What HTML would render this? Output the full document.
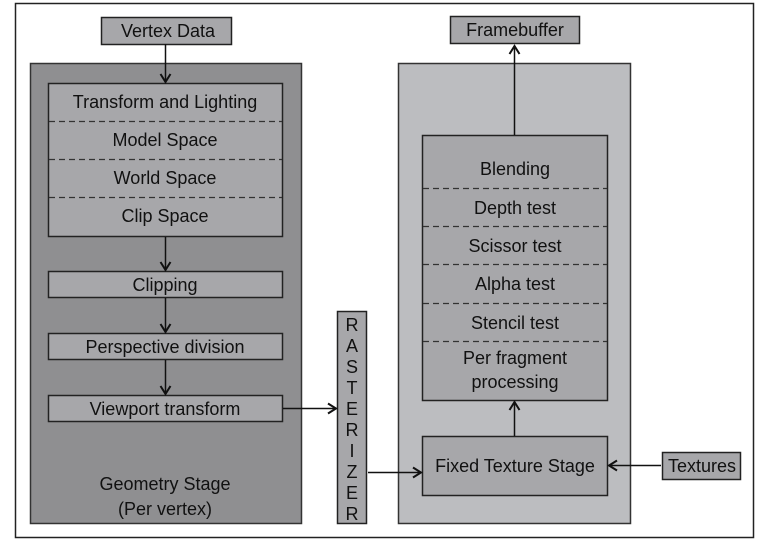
<!DOCTYPE html>
<html><head><meta charset="utf-8"><style>
html,body{margin:0;padding:0;background:#fff;}
svg{display:block;}
text{font-family:"Liberation Sans",sans-serif;font-size:18px;fill:#111;text-anchor:middle;}
</style></head><body>
<svg width="765" height="542" viewBox="0 0 765 542" xmlns="http://www.w3.org/2000/svg">
<defs>
<marker id="a" markerWidth="12" markerHeight="12" refX="10" refY="6" orient="auto" markerUnits="userSpaceOnUse">
<path d="M2,1 L10,6 L2,11" fill="none" stroke="#111" stroke-width="2"/>
</marker>
</defs>
<rect x="15.5" y="3.5" width="738" height="534" fill="#fff" stroke="#222" stroke-width="1.5"/>
<!-- geometry stage -->
<rect x="30.5" y="63.5" width="271" height="460" fill="#8f8f91" stroke="#333" stroke-width="1.5"/>
<rect x="101.5" y="17.5" width="130" height="27" fill="#a7a7aa" stroke="#222" stroke-width="1.5"/>
<text x="168" y="37">Vertex Data</text>
<rect x="48.5" y="83.5" width="234" height="153" fill="#a7a7aa" stroke="#222" stroke-width="1.5"/>
<g stroke="#333" stroke-width="1.2" stroke-dasharray="6,4">
<line x1="49" y1="121.5" x2="282" y2="121.5"/>
<line x1="49" y1="159.5" x2="282" y2="159.5"/>
<line x1="49" y1="197.5" x2="282" y2="197.5"/>
</g>
<text x="165" y="108">Transform and Lighting</text>
<text x="165" y="146">Model Space</text>
<text x="165" y="184">World Space</text>
<text x="165" y="222">Clip Space</text>
<rect x="48.5" y="271.5" width="234" height="26" fill="#a7a7aa" stroke="#222" stroke-width="1.5"/>
<text x="165" y="291">Clipping</text>
<rect x="48.5" y="333.5" width="234" height="26" fill="#a7a7aa" stroke="#222" stroke-width="1.5"/>
<text x="165" y="353">Perspective division</text>
<rect x="48.5" y="395.5" width="234" height="26" fill="#a7a7aa" stroke="#222" stroke-width="1.5"/>
<text x="165" y="415">Viewport transform</text>
<text x="165" y="490">Geometry Stage</text>
<text x="165" y="515">(Per vertex)</text>
<!-- rasterizer -->
<rect x="337.5" y="311.5" width="29" height="212" fill="#a7a7aa" stroke="#222" stroke-width="1.5"/>
<g>
<text x="352" y="331">R</text><text x="352" y="352">A</text><text x="352" y="373">S</text>
<text x="352" y="394">T</text><text x="352" y="415">E</text><text x="352" y="436">R</text>
<text x="352" y="457">I</text><text x="352" y="478">Z</text><text x="352" y="499">E</text>
<text x="352" y="520">R</text>
</g>
<!-- right -->
<rect x="398.5" y="63.5" width="232" height="460" fill="#bcbdc0" stroke="#333" stroke-width="1.5"/>
<rect x="450.5" y="16.5" width="129" height="27" fill="#a7a7aa" stroke="#222" stroke-width="1.5"/>
<text x="515" y="36">Framebuffer</text>
<rect x="422.5" y="135.5" width="185" height="265" fill="#a7a7aa" stroke="#222" stroke-width="1.5"/>
<g stroke="#333" stroke-width="1.2" stroke-dasharray="6,4">
<line x1="423" y1="188.5" x2="607" y2="188.5"/>
<line x1="423" y1="226.5" x2="607" y2="226.5"/>
<line x1="423" y1="264.5" x2="607" y2="264.5"/>
<line x1="423" y1="303.5" x2="607" y2="303.5"/>
<line x1="423" y1="341.5" x2="607" y2="341.5"/>
</g>
<text x="515" y="175">Blending</text>
<text x="515" y="214">Depth test</text>
<text x="515" y="252">Scissor test</text>
<text x="515" y="290">Alpha test</text>
<text x="515" y="329">Stencil test</text>
<text x="515" y="364">Per fragment</text>
<text x="515" y="388">processing</text>
<rect x="422.5" y="436.5" width="185" height="59" fill="#a7a7aa" stroke="#222" stroke-width="1.5"/>
<text x="515" y="472">Fixed Texture Stage</text>
<rect x="662.5" y="452.5" width="78" height="27" fill="#a7a7aa" stroke="#222" stroke-width="1.5"/>
<text x="702" y="472">Textures</text>
<!-- connectors on top -->
<g stroke="#111" stroke-width="1.5" fill="none" marker-end="url(#a)">
<line x1="165.5" y1="44" x2="165.5" y2="82"/>
<line x1="165.5" y1="237" x2="165.5" y2="270"/>
<line x1="165.5" y1="298" x2="165.5" y2="332"/>
<line x1="165.5" y1="360" x2="165.5" y2="394"/>
<line x1="283" y1="408.5" x2="336" y2="408.5"/>
<line x1="368" y1="472.5" x2="421" y2="472.5"/>
<line x1="514.5" y1="135" x2="514.5" y2="46"/>
<line x1="514.5" y1="436" x2="514.5" y2="402"/>
<line x1="661" y1="465.5" x2="609" y2="465.5"/>
</g>
</svg>
</body></html>
